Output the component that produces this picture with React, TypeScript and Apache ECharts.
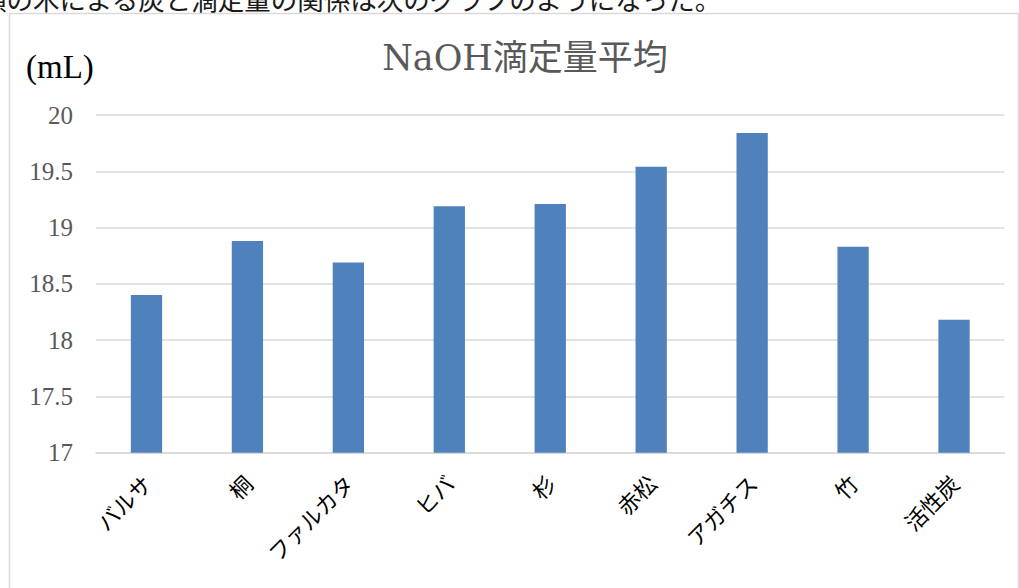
import React, { useEffect, useRef } from "react";
import * as echarts from "echarts";

// Wood / charcoal samples and their mean NaOH titration volume (mL)
const categories = ["バルサ", "桐", "ファルカタ", "ヒバ", "杉", "赤松", "アガチス", "竹", "活性炭"];
const titrationMeans = [18.4, 18.88, 18.69, 19.19, 19.21, 19.54, 19.84, 18.83, 18.18];

const yMin = 17;
const yMax = 20;
const yStep = 0.5;

const titleText = "NaOH滴定量平均";
const unitText = "(mL)";
const leadText = "類の木による炭と滴定量の関係は次のグラフのようになった。";

const SERIF = "'Liberation Serif', 'Noto Sans CJK JP', serif";
const JP = "'Noto Sans CJK JP', sans-serif";

export default function App() {
  const ref = useRef<HTMLDivElement>(null);

  useEffect(() => {
    if (!ref.current) return;
    const chart = echarts.init(ref.current, null, { renderer: "svg" });
    chart.setOption({
      animation: false,
      backgroundColor: "#ffffff",
      grid: {
        left: 96,
        right: 14.5,
        top: 115,
        bottom: 135.3,
        containLabel: false,
        outerBoundsMode: "none",
      },
      graphic: [
        {
          type: "rect",
          shape: { x: 9.5, y: 13.5, width: 1009, height: 600 },
          style: { fill: "none", stroke: "#d9d9d9", lineWidth: 1.5 },
          z: -1,
        },
        {
          type: "text",
          x: -20,
          y: -15,
          style: {
            text: leadText,
            font: `26.5px ${JP}`,
            fill: "#1a1a1a",
            textVerticalAlign: "top",
          },
        },
        {
          type: "text",
          x: 525,
          y: 58,
          style: {
            text: titleText,
            font: `35px 'DejaVu Serif', 'Noto Sans CJK JP', serif`,
            fill: "#595959",
            textAlign: "center",
            textVerticalAlign: "middle",
          },
        },
        {
          type: "text",
          x: 26,
          y: 67,
          style: {
            text: unitText,
            font: `33px ${SERIF}`,
            fill: "#000000",
            textAlign: "left",
            textVerticalAlign: "middle",
          },
        },
      ],
      xAxis: {
        type: "category",
        data: categories,
        axisLine: { show: true, lineStyle: { color: "#d9d9d9", width: 1.5 } },
        axisTick: { show: false },
        axisLabel: {
          rotate: 45,
          margin: 26,
          color: "#000000",
          fontFamily: JP,
          fontSize: 22,
          interval: 0,
        },
      },
      yAxis: {
        type: "value",
        min: yMin,
        max: yMax,
        interval: yStep,
        axisLine: { show: false },
        axisTick: { show: false },
        splitLine: { lineStyle: { color: "#d9d9d9", width: 1.5 } },
        axisLabel: {
          margin: 23,
          color: "#595959",
          fontFamily: SERIF,
          fontSize: 25,
        },
      },
      series: [
        {
          type: "bar",
          data: titrationMeans,
          barWidth: "31%",
          itemStyle: { color: "#4f81bd" },
        },
      ],
    });
    return () => chart.dispose();
  }, []);

  return (
    <div
      ref={ref}
      style={{ position: "fixed", left: 0, top: 0, width: 1019, height: 588 }}
    />
  );
}
